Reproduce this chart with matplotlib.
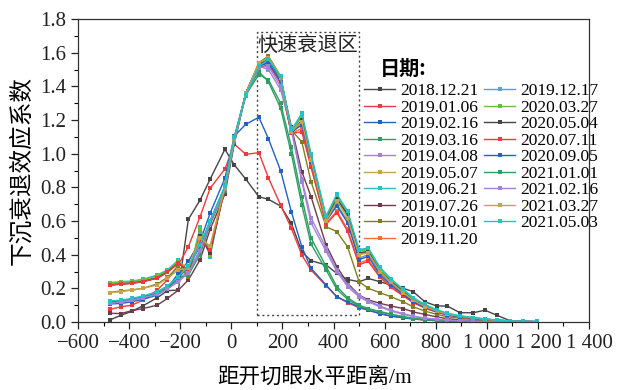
import matplotlib
matplotlib.use('Agg')
import matplotlib.pyplot as plt
from matplotlib.patches import Rectangle
from matplotlib.ticker import MultipleLocator, FuncFormatter

plt.rcParams['font.family'] = ['Liberation Serif', 'Noto Sans CJK SC']
plt.rcParams['axes.unicode_minus'] = True

# distance from cut (m)
x = [-475, -432, -390, -345, -290, -250, -207, -168, -122, -83, -25, 12, 57, 108, 145,
     193, 235, 276, 312, 371, 413, 455, 500, 536, 582, 625, 673, 712, 758, 804, 845,
     895, 947, 993, 1039, 1091, 1142, 1195]

d20181221 = [0.012, 0.04, 0.063, 0.097, 0.144, 0.186, 0.19, 0.61, 0.725, 0.848, 1.026, 0.933, 0.848,
             0.744, 0.729, 0.689, 0.586, 0.418, 0.364, 0.339, 0.289, 0.253, 0.239, 0.259, 0.239,
             0.22, 0.2, 0.18, 0.12, 0.095, 0.095, 0.055, 0.055, 0.07, 0.04, 0.008, 0.002, 0.001]
d20190106 = [0.075, 0.09, 0.10, 0.13, 0.19, 0.25, 0.34, 0.447, 0.626, 0.794, 0.909, 1.056, 0.996,
             1.006, 0.857, 0.695, 0.557, 0.398, 0.309, 0.215, 0.15, 0.115, 0.085, 0.07, 0.05,
             0.035, 0.025, 0.018, 0.012, 0.008, 0.005, 0.003, 0.002, 0.001, 0.001, 0, 0, 0]
d20190216 = [0.107, 0.11, 0.12, 0.135, 0.16, 0.2, 0.29, 0.36, 0.48, 0.646, 0.854, 1.105, 1.175,
             1.216, 1.09, 0.899, 0.655, 0.447, 0.319, 0.22, 0.15, 0.12, 0.09, 0.07, 0.05,
             0.035, 0.025, 0.018, 0.012, 0.008, 0.005, 0.003, 0.002, 0.001, 0.001, 0, 0, 0]
d20190316 = [0.12, 0.125, 0.135, 0.15, 0.17, 0.2, 0.25, 0.3, 0.42, 0.6, 0.8, 1.08, 1.36, 1.487,
             1.428, 1.27, 1.0, 0.695, 0.463, 0.309, 0.194, 0.135, 0.095, 0.075, 0.061, 0.045,
             0.03, 0.02, 0.014, 0.01, 0.007, 0.005, 0.003, 0.002, 0.001, 0.001, 0, 0]
d20190408 = [0.12, 0.125, 0.135, 0.15, 0.17, 0.2, 0.25, 0.3, 0.43, 0.6, 0.8, 1.09, 1.36, 1.52,
             1.5, 1.38, 1.14, 0.834, 0.59, 0.42, 0.3, 0.21, 0.15, 0.12, 0.09, 0.065, 0.045,
             0.032, 0.022, 0.015, 0.01, 0.007, 0.005, 0.003, 0.002, 0.001, 0.001, 0]
d20190507 = [0.22, 0.23, 0.235, 0.245, 0.265, 0.3, 0.35, 0.33, 0.5, 0.45, 0.8, 1.09, 1.36, 1.53,
             1.55, 1.42, 1.12, 1.18, 0.96, 0.6, 0.72, 0.63, 0.4, 0.42, 0.3, 0.24, 0.18, 0.135,
             0.095, 0.068, 0.048, 0.034, 0.024, 0.017, 0.011, 0.006, 0.004, 0.002]
d20190621 = [0.234, 0.24, 0.243, 0.255, 0.279, 0.31, 0.368, 0.26, 0.566, 0.388, 0.82, 1.10, 1.34,
             1.517, 1.56, 1.45, 1.13, 1.236, 0.99, 0.62, 0.75, 0.655, 0.424, 0.438, 0.32, 0.25,
             0.19, 0.14, 0.1, 0.07, 0.05, 0.036, 0.026, 0.018, 0.012, 0.007, 0.004, 0.003]
d20190726 = [0.052, 0.05, 0.067, 0.08, 0.1, 0.14, 0.19, 0.25, 0.37, 0.55, 0.76, 1.06, 1.36, 1.53,
             1.55, 1.45, 1.16, 0.893, 0.745, 0.457, 0.329, 0.23, 0.16, 0.131, 0.111, 0.095, 0.08,
             0.06, 0.045, 0.03, 0.02, 0.012, 0.008, 0.005, 0.003, 0.002, 0.001, 0]
d20191001 = [0.175, 0.185, 0.19, 0.2, 0.226, 0.265, 0.329, 0.27, 0.53, 0.42, 0.79, 1.08, 1.36,
             1.54, 1.58, 1.46, 1.14, 1.07, 0.834, 0.566, 0.537, 0.447, 0.24, 0.2, 0.174, 0.15,
             0.12, 0.09, 0.065, 0.045, 0.032, 0.022, 0.015, 0.01, 0.006, 0.004, 0.002, 0.001]
d20191120 = [0.22, 0.225, 0.23, 0.24, 0.26, 0.295, 0.35, 0.3, 0.5, 0.42, 0.8, 1.09, 1.36, 1.52,
             1.54, 1.43, 1.12, 1.15, 0.93, 0.585, 0.66, 0.55, 0.35, 0.37, 0.27, 0.21, 0.16, 0.12,
             0.085, 0.06, 0.043, 0.03, 0.021, 0.015, 0.01, 0.006, 0.003, 0.002]
d20191217 = [0.225, 0.23, 0.235, 0.245, 0.265, 0.3, 0.355, 0.29, 0.52, 0.4, 0.81, 1.1, 1.35, 1.52,
             1.55, 1.44, 1.12, 1.19, 0.96, 0.6, 0.7, 0.6, 0.38, 0.4, 0.29, 0.23, 0.17, 0.125,
             0.09, 0.064, 0.045, 0.032, 0.022, 0.016, 0.01, 0.006, 0.004, 0.002]
d20200327 = [0.23, 0.235, 0.24, 0.25, 0.275, 0.305, 0.36, 0.28, 0.55, 0.4, 0.82, 1.1, 1.35, 1.53,
             1.57, 1.46, 1.13, 1.22, 0.98, 0.615, 0.74, 0.645, 0.42, 0.43, 0.31, 0.245, 0.185,
             0.135, 0.097, 0.068, 0.048, 0.034, 0.024, 0.017, 0.011, 0.006, 0.004, 0.002]
d20200504 = [0.22, 0.225, 0.23, 0.24, 0.262, 0.298, 0.35, 0.3, 0.51, 0.41, 0.8, 1.09, 1.36, 1.53,
             1.56, 1.45, 1.12, 1.2, 0.97, 0.61, 0.73, 0.64, 0.41, 0.42, 0.3, 0.24, 0.18, 0.13,
             0.094, 0.066, 0.046, 0.033, 0.023, 0.016, 0.01, 0.006, 0.003, 0.002]
d20200711 = [0.22, 0.225, 0.23, 0.24, 0.26, 0.295, 0.35, 0.31, 0.49, 0.43, 0.79, 1.09, 1.35, 1.51,
             1.53, 1.42, 1.12, 1.13, 0.92, 0.58, 0.65, 0.54, 0.34, 0.36, 0.265, 0.205, 0.155,
             0.115, 0.082, 0.058, 0.041, 0.029, 0.02, 0.014, 0.009, 0.005, 0.003, 0.002]
d20200905 = [0.12, 0.125, 0.135, 0.15, 0.17, 0.205, 0.26, 0.33, 0.45, 0.6, 0.8, 1.09, 1.36, 1.52,
             1.54, 1.43, 1.13, 1.17, 0.95, 0.6, 0.69, 0.59, 0.37, 0.39, 0.28, 0.22, 0.165, 0.12,
             0.086, 0.061, 0.043, 0.03, 0.021, 0.015, 0.01, 0.006, 0.003, 0.002]
d20210101 = [0.115, 0.12, 0.13, 0.145, 0.165, 0.21, 0.26, 0.28, 0.4, 0.58, 0.78, 1.07, 1.35, 1.47,
             1.44, 1.3, 1.04, 0.74, 0.5, 0.33, 0.21, 0.145, 0.1, 0.08, 0.062, 0.046, 0.032,
             0.022, 0.015, 0.011, 0.008, 0.005, 0.003, 0.002, 0.001, 0.001, 0, 0]
d20210216 = [0.11, 0.12, 0.13, 0.145, 0.165, 0.195, 0.24, 0.29, 0.42, 0.59, 0.79, 1.08, 1.35, 1.51,
             1.52, 1.4, 1.15, 0.85, 0.62, 0.44, 0.31, 0.22, 0.16, 0.125, 0.095, 0.07, 0.05,
             0.035, 0.024, 0.016, 0.011, 0.008, 0.005, 0.003, 0.002, 0.001, 0.001, 0]
d20210327 = [0.175, 0.18, 0.19, 0.2, 0.22, 0.26, 0.31, 0.32, 0.5, 0.45, 0.8, 1.09, 1.36, 1.54,
             1.57, 1.45, 1.13, 1.19, 0.96, 0.6, 0.72, 0.62, 0.4, 0.41, 0.3, 0.235, 0.175, 0.13,
             0.092, 0.065, 0.046, 0.033, 0.023, 0.016, 0.01, 0.006, 0.003, 0.002]
d20210503 = [0.125, 0.13, 0.14, 0.155, 0.18, 0.215, 0.27, 0.33, 0.46, 0.6, 0.81, 1.1, 1.35, 1.52,
             1.56, 1.46, 1.14, 1.24, 1.0, 0.63, 0.76, 0.66, 0.43, 0.44, 0.325, 0.255, 0.195,
             0.145, 0.104, 0.073, 0.052, 0.037, 0.026, 0.018, 0.012, 0.007, 0.004, 0.003]

labels = ['2018.12.21', '2019.01.06', '2019.02.16', '2019.03.16', '2019.04.08',
          '2019.05.07', '2019.06.21', '2019.07.26', '2019.10.01', '2019.11.20',
          '2019.12.17', '2020.03.27', '2020.05.04', '2020.07.11', '2020.09.05',
          '2021.01.01', '2021.02.16', '2021.03.27', '2021.05.03']
series = [d20181221, d20190106, d20190216, d20190316, d20190408, d20190507, d20190621,
          d20190726, d20191001, d20191120, d20191217, d20200327, d20200504, d20200711,
          d20200905, d20210101, d20210216, d20210327, d20210503]
colors = ['#454545', '#ee3a3f', '#2461c4', '#2f9e62', '#a283d6', '#c9a24a', '#22c2c6',
          '#6e3b4c', '#80801f', '#ff6b35', '#5d9fd8', '#66bf3a', '#454545', '#ee3a3f',
          '#2461c4', '#2f9e62', '#a283d6', '#c9a24a', '#22c2c6']

fig = plt.figure(figsize=(6.27, 3.9), dpi=100)
ax = fig.add_axes([78 / 627, 68 / 390, 511 / 627, 303 / 390])

for lab, y, c in zip(labels, series, colors):
    ax.plot(x, y, color=c, lw=1.0, marker='s', ms=2.6, mew=0, label=lab)

ax.add_patch(Rectangle((100, 0.04), 400, 1.68, fill=False, ls=(0, (1.5, 2)), lw=1.0, ec='#444444'))
ax.text(103, 1.69, '快速衰退区', fontsize=14.5, va='top', ha='left', color='#222222')

ax.set_xlim(-600, 1400)
ax.set_ylim(0, 1.8)
ax.xaxis.set_major_locator(MultipleLocator(200))
ax.xaxis.set_minor_locator(MultipleLocator(100))
ax.yaxis.set_major_locator(MultipleLocator(0.2))
ax.yaxis.set_minor_locator(MultipleLocator(0.1))


def fmt_x(v, pos):
    s = '{:d}'.format(int(round(abs(v))))
    if len(s) > 3:
        s = s[:-3] + ' ' + s[-3:]
    return ('\u2212' if v < 0 else '') + s


ax.xaxis.set_major_formatter(FuncFormatter(fmt_x))
ax.yaxis.set_major_formatter(FuncFormatter(lambda v, p: '{:.1f}'.format(v)))
ax.tick_params(which='major', direction='out', length=5, width=0.9, labelsize=15, colors='#222222')
ax.tick_params(which='minor', direction='out', length=3, width=0.8)
for s in ax.spines.values():
    s.set_linewidth(0.9)
    s.set_color('#333333')

ax.set_xlabel('距开切眼水平距离/m', fontsize=15.5, labelpad=3)
ax.xaxis.set_label_coords(0.464, -0.15)
ax.set_ylabel('下沉衰退效应系数', fontsize=17, labelpad=5)

fig.text(380 / 627, 1 - 68 / 390, '日期:', fontsize=14.5, fontweight='bold',
         va='center', ha='left', family=['Noto Sans CJK SC'])
leg = fig.legend(loc='upper left', bbox_to_anchor=(364 / 627, 1 - 83 / 390),
                 ncol=2, frameon=False, fontsize=12.5,
                 handlelength=1.8, handletextpad=0.3, columnspacing=0.3,
                 labelspacing=0.02, borderpad=0, borderaxespad=0)

fig.savefig('out.png', dpi=100)
